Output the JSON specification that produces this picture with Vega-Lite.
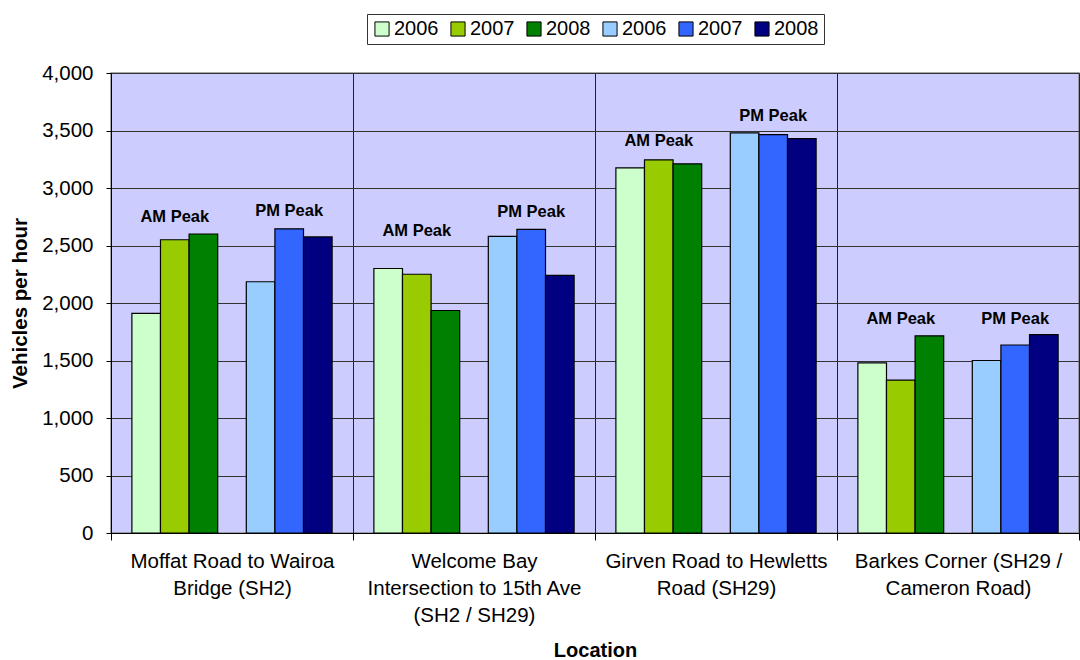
{
  "$schema": "https://vega.github.io/schema/vega-lite/v6.json",
  "autosize": "none",
  "width": 968,
  "height": 460,
  "padding": {"left": 111, "top": 73, "right": 1, "bottom": 127},
  "background": "white",
  "config": {
    "font": "Liberation Sans",
    "view": {"fill": "#CCCCFF", "stroke": "#8C8C8C", "strokeWidth": 1.5},
    "legend": {"layout": {"top": {"anchor": "middle"}}},
    "axis": {
      "labelFont": "Liberation Sans",
      "titleFont": "Liberation Sans",
      "labelColor": "black",
      "titleColor": "black",
      "domainColor": "black",
      "tickColor": "black"
    }
  },
  "datasets": {
    "counts": [
      {"location": "Moffat Road to Wairoa Bridge (SH2)", "series": "AM 2006", "vph": 1910},
      {"location": "Moffat Road to Wairoa Bridge (SH2)", "series": "AM 2007", "vph": 2550},
      {"location": "Moffat Road to Wairoa Bridge (SH2)", "series": "AM 2008", "vph": 2600},
      {"location": "Moffat Road to Wairoa Bridge (SH2)", "series": "PM 2006", "vph": 2185},
      {"location": "Moffat Road to Wairoa Bridge (SH2)", "series": "PM 2007", "vph": 2645},
      {"location": "Moffat Road to Wairoa Bridge (SH2)", "series": "PM 2008", "vph": 2575},
      {"location": "Welcome Bay Intersection to 15th Ave (SH2 / SH29)", "series": "AM 2006", "vph": 2300},
      {"location": "Welcome Bay Intersection to 15th Ave (SH2 / SH29)", "series": "AM 2007", "vph": 2250},
      {"location": "Welcome Bay Intersection to 15th Ave (SH2 / SH29)", "series": "AM 2008", "vph": 1935},
      {"location": "Welcome Bay Intersection to 15th Ave (SH2 / SH29)", "series": "PM 2006", "vph": 2580},
      {"location": "Welcome Bay Intersection to 15th Ave (SH2 / SH29)", "series": "PM 2007", "vph": 2640},
      {"location": "Welcome Bay Intersection to 15th Ave (SH2 / SH29)", "series": "PM 2008", "vph": 2240},
      {"location": "Girven Road to Hewletts Road (SH29)", "series": "AM 2006", "vph": 3175},
      {"location": "Girven Road to Hewletts Road (SH29)", "series": "AM 2007", "vph": 3245},
      {"location": "Girven Road to Hewletts Road (SH29)", "series": "AM 2008", "vph": 3210},
      {"location": "Girven Road to Hewletts Road (SH29)", "series": "PM 2006", "vph": 3480},
      {"location": "Girven Road to Hewletts Road (SH29)", "series": "PM 2007", "vph": 3465},
      {"location": "Girven Road to Hewletts Road (SH29)", "series": "PM 2008", "vph": 3430},
      {"location": "Barkes Corner (SH29 / Cameron Road)", "series": "AM 2006", "vph": 1480},
      {"location": "Barkes Corner (SH29 / Cameron Road)", "series": "AM 2007", "vph": 1330},
      {"location": "Barkes Corner (SH29 / Cameron Road)", "series": "AM 2008", "vph": 1715},
      {"location": "Barkes Corner (SH29 / Cameron Road)", "series": "PM 2006", "vph": 1500},
      {"location": "Barkes Corner (SH29 / Cameron Road)", "series": "PM 2007", "vph": 1635},
      {"location": "Barkes Corner (SH29 / Cameron Road)", "series": "PM 2008", "vph": 1725}
    ],
    "peaks": [
      {"location": "Moffat Road to Wairoa Bridge (SH2)", "series": "AM 2007", "label": "AM Peak", "vph": 2745},
      {"location": "Moffat Road to Wairoa Bridge (SH2)", "series": "PM 2007", "label": "PM Peak", "vph": 2800},
      {"location": "Welcome Bay Intersection to 15th Ave (SH2 / SH29)", "series": "AM 2007", "label": "AM Peak", "vph": 2630},
      {"location": "Welcome Bay Intersection to 15th Ave (SH2 / SH29)", "series": "PM 2007", "label": "PM Peak", "vph": 2795},
      {"location": "Girven Road to Hewletts Road (SH29)", "series": "AM 2007", "label": "AM Peak", "vph": 3405},
      {"location": "Girven Road to Hewletts Road (SH29)", "series": "PM 2007", "label": "PM Peak", "vph": 3625},
      {"location": "Barkes Corner (SH29 / Cameron Road)", "series": "AM 2007", "label": "AM Peak", "vph": 1860},
      {"location": "Barkes Corner (SH29 / Cameron Road)", "series": "PM 2007", "label": "PM Peak", "vph": 1865}
    ]
  },
  "encoding": {
    "x": {
      "field": "location",
      "type": "nominal",
      "sort": null,
      "scale": {"paddingInner": 0, "paddingOuter": 0},
      "axis": {
        "title": "Location",
        "titleFontSize": 20,
        "titleFontWeight": "bold",
        "titlePadding": 15,
        "labelAngle": 0,
        "labelFontSize": 20.5,
        "labelLimit": 0,
        "labelPadding": 11,
        "labelLineHeight": 27,
        "labelBaseline": "top",
        "tickBand": "extent",
        "tickSize": 7,
        "grid": true,
        "gridColor": "#222222",
        "gridOpacity": 1,
        "labelExpr": "datum.value == 'Moffat Road to Wairoa Bridge (SH2)' ? ['Moffat Road to Wairoa', 'Bridge (SH2)'] : datum.value == 'Welcome Bay Intersection to 15th Ave (SH2 / SH29)' ? ['Welcome Bay', 'Intersection to 15th Ave', '(SH2 / SH29)'] : datum.value == 'Girven Road to Hewletts Road (SH29)' ? ['Girven Road to Hewletts', 'Road (SH29)'] : datum.value == 'Barkes Corner (SH29 / Cameron Road)' ? ['Barkes Corner (SH29 /', 'Cameron Road)'] : ''"
      }
    },
    "xOffset": {
      "field": "series",
      "type": "nominal",
      "scale": {
        "domain": ["AM 2006", "AM 2007", "AM 2008", "gap", "PM 2006", "PM 2007", "PM 2008"],
        "paddingInner": 0,
        "paddingOuter": 0.73
      }
    },
    "y": {
      "field": "vph",
      "type": "quantitative",
      "scale": {"domain": [0, 4000], "nice": false},
      "axis": {
        "title": "Vehicles per hour",
        "titleFontSize": 20.5,
        "titleFontWeight": "bold",
        "titlePadding": 11,
        "values": [0, 500, 1000, 1500, 2000, 2500, 3000, 3500, 4000],
        "format": ",d",
        "labelFontSize": 20.5,
        "labelPadding": 13,
        "tickSize": 5,
        "grid": true,
        "gridColor": "#333333",
        "gridOpacity": 1
      }
    }
  },
  "layer": [
    {
      "data": {"name": "counts"},
      "mark": {"type": "bar", "stroke": "black", "strokeWidth": 1.2},
      "encoding": {
        "color": {
          "field": "series",
          "type": "nominal",
          "scale": {
            "domain": ["AM 2006", "AM 2007", "AM 2008", "PM 2006", "PM 2007", "PM 2008"],
            "range": ["#CCFFCC", "#99CC00", "#008000", "#99CCFF", "#3366FF", "#000080"]
          },
          "legend": {
            "title": null,
            "orient": "top",
            "direction": "horizontal",
            "offset": 29,
            "labelExpr": "substring(datum.label, 3)",
            "labelFont": "Liberation Sans",
            "labelFontSize": 20,
            "labelColor": "black",
            "labelOffset": 2,
            "symbolType": "square",
            "symbolSize": 200,
            "symbolStrokeColor": "black",
            "symbolStrokeWidth": 1,
            "symbolOpacity": 1,
            "columnPadding": 9,
            "padding": 5,
            "strokeColor": "#333333",
            "fillColor": "white"
          }
        }
      }
    },
    {
      "data": {"name": "peaks"},
      "mark": {"type": "text", "font": "Liberation Sans", "fontSize": 16.5, "fontWeight": "bold", "color": "black", "baseline": "middle", "align": "center"},
      "encoding": {
        "text": {"field": "label", "type": "nominal"}
      }
    }
  ]
}
